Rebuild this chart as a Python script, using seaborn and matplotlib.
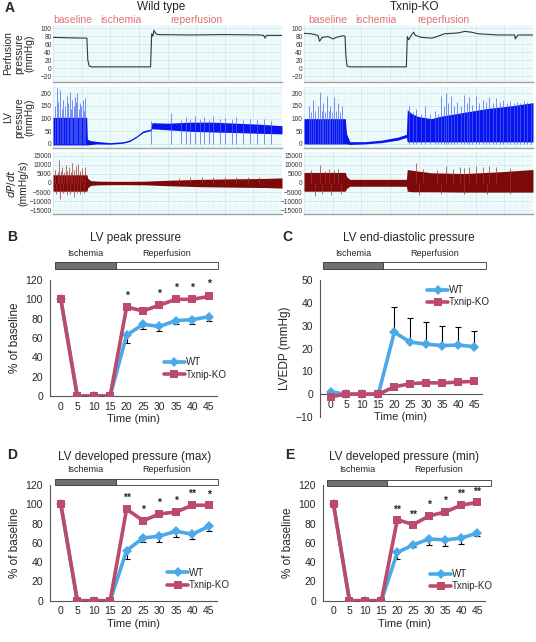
import numpy as np
import pandas as pd
import matplotlib
import matplotlib.pyplot as plt
import seaborn as sns
from matplotlib.patches import Rectangle
from matplotlib.lines import Line2D
from matplotlib.ticker import MultipleLocator

sns.set_theme(style='white')
plt.rcParams['font.family'] = ['Liberation Sans', 'DejaVu Sans']

# ---------------- panel A: traces (time as fraction of recording) ----------------
perf_wt_t = [0, 0.06, 0.148, 0.152, 0.158, 0.17, 0.426, 0.431, 0.436, 0.441, 0.447, 0.455,
             0.6, 0.75, 0.9, 0.92, 0.926, 0.932, 1.0]
perf_wt_v = [77, 76, 75, 20, 5, 3, 3, 86, 80, 95, 88, 84, 83, 84, 83, 82, 75, 82, 82]
perf_ko_t = [0, 0.032, 0.061, 0.068, 0.079, 0.105, 0.127, 0.141, 0.170, 0.179, 0.183, 0.188,
             0.2, 0.447, 0.451, 0.457, 0.469, 0.479, 0.486, 0.512, 0.556, 0.571, 0.614, 0.672,
             0.702, 0.731, 0.760, 0.847, 0.920, 0.923, 0.934, 1.0]
perf_ko_v = [87, 86, 82, 67, 77, 79, 73, 77, 81, 80, 30, 5, 3, 3, 79, 71, 83, 90, 82, 77,
             75, 77, 86, 88, 92, 90, 86, 83, 83, 73, 83, 83]

lv_wt_t = [0, 0.147, 0.150, 0.16, 0.19, 0.25, 0.307, 0.336, 0.365, 0.394, 0.424, 0.428, 0.432,
           0.5, 0.6, 0.7, 0.8, 0.9, 1.0]
lv_wt_hi = [105, 105, 20, 14, 10, 5, 9, 16, 32, 52, 58, 62, 84, 82, 86, 86, 82, 78, 72]
lv_wt_lo = [-4, -4, -4, -3, 0, -1, 3, 10, 26, 45, 52, 55, 60, 56, 50, 47, 45, 42, 40]
lv_wt_sp_t = [0.008, 0.016, 0.023, 0.03, 0.038, 0.045, 0.052, 0.06, 0.067, 0.074, 0.08,
              0.085, 0.09, 0.095, 0.1, 0.106, 0.112, 0.118, 0.124, 0.13, 0.135, 0.14,
              0.43, 0.514, 0.56, 0.58, 0.6, 0.62, 0.64, 0.66, 0.68, 0.7, 0.73, 0.75, 0.78,
              0.8, 0.83, 0.86, 0.89, 0.92, 0.95]
lv_wt_sp_h = [150, 220, 165, 213, 140, 174, 150, 190, 160, 207, 140,
              175, 150, 187, 165, 200, 140, 160, 150, 174, 130, 180,
              92, 121, 95, 105, 100, 112, 98, 108, 96, 110, 100, 104, 97,
              108, 96, 100, 95, 98, 90]

lv_ko_t = [0, 0.18, 0.186, 0.2, 0.265, 0.338, 0.41, 0.447, 0.451, 0.47, 0.5, 0.556, 0.6,
           0.7, 0.8, 0.9, 1.0]
lv_ko_hi = [100, 100, 40, 9, 9, 15, 27, 38, 135, 120, 108, 100, 110, 125, 140, 150, 163]
lv_ko_lo = [0, 0, 0, -2, 0, 5, 15, 26, 8, 8, 8, 8, 8, 8, 8, 8, 8]
lv_ko_sp_t = [0.02, 0.03, 0.04, 0.05, 0.06, 0.068, 0.077, 0.085, 0.093, 0.1, 0.108, 0.115,
              0.123, 0.13, 0.14, 0.15, 0.158, 0.165,
              0.46, 0.475, 0.49, 0.51, 0.53, 0.55, 0.57, 0.585, 0.6, 0.61, 0.62, 0.63, 0.64,
              0.655, 0.67, 0.685, 0.7, 0.71, 0.72, 0.735, 0.75, 0.765, 0.78, 0.795, 0.81,
              0.825, 0.84, 0.855, 0.87, 0.885, 0.9, 0.915, 0.93, 0.945, 0.96, 0.975, 0.99]
lv_ko_sp_h = [150, 125, 175, 130, 150, 205, 130, 160, 125, 190, 130, 150,
              125, 185, 130, 160, 125, 150,
              150, 125, 140, 120, 150, 118, 130, 120, 190, 150, 200, 160, 190,
              150, 165, 150, 195, 160, 185, 155, 190, 160, 175, 165, 185,
              160, 180, 165, 175, 160, 170, 160, 165, 160, 170, 165, 160]

dp_wt_t = [0, 0.148, 0.152, 0.165, 0.2, 0.3, 0.4, 0.5, 0.64, 0.8, 0.93, 1.0]
dp_wt_hi = [4500, 4500, 2500, 1300, 1000, 900, 1000, 1500, 2000, 2300, 2500, 2800]
dp_wt_lo = [-4500, -4500, -2500, -1300, -1000, -900, -1000, -1500, -2000, -2300, -2500, -2800]
dp_wt_sp_t = [0.01, 0.02, 0.028, 0.035, 0.04, 0.048, 0.055, 0.062, 0.07, 0.078, 0.085,
              0.092, 0.1, 0.11, 0.118, 0.125, 0.138,
              0.015, 0.03, 0.045, 0.06, 0.075, 0.09, 0.105, 0.12, 0.135,
              0.55, 0.6, 0.65, 0.7, 0.75, 0.8, 0.85, 0.9]
dp_wt_sp_h = [7000, 6000, 12600, 6500, 9000, 6000, 10000, 6500, 8500, 6000, 11000,
              7000, 9500, 10500, 6500, 8000, 9000,
              -6000, -8700, -5500, -6500, -5800, -7500, -5500, -6000, -5500,
              3000, 3200, 3400, 3500, 3300, 3300, 3400, 3300]

dp_ko_t = [0, 0.18, 0.186, 0.2, 0.447, 0.451, 0.47, 0.556, 0.7, 0.85, 1.0]
dp_ko_hi = [5800, 5800, 3500, 2000, 2000, 7400, 7000, 5600, 5200, 6100, 7400]
dp_ko_lo = [-4500, -4500, -3000, -1800, -1800, -4500, -4800, -4800, -5000, -5000, -5000]
dp_ko_sp_t = [0.03, 0.068, 0.09, 0.11, 0.13, 0.15, 0.05, 0.08, 0.12, 0.16,
              0.49, 0.52, 0.58, 0.62, 0.65, 0.68, 0.7, 0.72, 0.75, 0.78, 0.81, 0.84, 0.9,
              0.5, 0.6, 0.7, 0.8, 0.9]
dp_ko_sp_h = [7000, 9900, 6800, 7500, 7000, 7500, -7000, -6000, -6500, -6200,
              10800, 7500, 7200, 9500, 7800, 8500, 8200, 9000, 9500, 9000, 9200, 8500, 8000,
              -6500, -6000, -6000, -6200, -6000]

# ---------------- panels B-E ----------------
times = [0, 5, 10, 15, 20, 25, 30, 35, 40, 45]

b_wt = [100, 0, 0, 0, 63, 74, 72, 78, 79, 82]
b_wt_sem = [0, 0, 0, 0, 8, 5, 5, 4, 4, 4]
b_ko = [100, 0, 0, 0, 92, 88, 94, 100, 100, 103]
b_ko_sem = [0, 0, 0, 0, 2, 2, 3, 3, 3, 4]
b_stars = ['', '', '', '', '*', '', '*', '*', '*', '*']

c_wt = [1, 0, 0, 0, 27.1, 22.8, 21.9, 21.3, 21.5, 20.8]
c_wt_sem = [0, 0, 0, 0, 10.9, 10.4, 9.6, 8.4, 7.7, 7.0]
c_ko = [-1.1, 0, 0, 0, 3.2, 4.6, 5.0, 4.9, 5.3, 5.6]

d_wt = [100, 0, 0, 0, 52, 65, 67, 72, 69, 77]
d_wt_sem = [0, 0, 0, 0, 9, 4, 6, 6, 5, 5]
d_ko = [100, 0, 0, 0, 95, 83, 90, 92, 99, 99]
d_ko_sem = [0, 0, 0, 0, 2, 2, 2, 2, 3, 2]
d_stars = ['', '', '', '', '**', '*', '*', '*', '**', '*']

e_wt = [100, 0, 0, 0, 50, 58, 64, 63, 65, 70]
e_wt_sem = [0, 0, 0, 0, 7, 2, 6, 6, 6, 3]
e_ko = [100, 0, 0, 0, 84, 79, 88, 92, 99, 102]
e_ko_sem = [0, 0, 0, 0, 1, 1, 2, 2, 3, 2]
e_stars = ['', '', '', '', '**', '**', '*', '*', '**', '**']

WT_C = '#4ba9ea'
KO_C = '#bb4a6c'
LV_C = '#0a14ee'
DP_C = '#7c0a0a'
LBL_C = '#e07272'

W, H = 536, 642
fig = plt.figure(figsize=(W / 100, H / 100), dpi=100)


def fx(px):
    return px / W


def fy(py):
    return 1 - py / H


def px_axes(x0, y0, x1, y1):
    return fig.add_axes([fx(x0), fy(y1), (x1 - x0) / W, (y1 - y0) / H])


def trace_style(ax, ylim, yticks, yminor):
    ax.set_facecolor('#effbfb')
    ax.set_xlim(0, 1)
    ax.set_ylim(*ylim)
    ax.set_yticks(yticks)
    ax.yaxis.set_minor_locator(MultipleLocator(yminor))
    ax.xaxis.set_major_locator(MultipleLocator(0.125))
    ax.xaxis.set_minor_locator(MultipleLocator(0.025))
    ax.set_xticklabels([])
    ax.grid(which='major', color='#c3e6ec', lw=0.5)
    ax.grid(which='minor', color='#dcf1f4', lw=0.4, ls=(0, (2, 1)))
    ax.set_axisbelow(True)
    for s in ['top', 'left', 'right']:
        ax.spines[s].set_visible(False)
    ax.spines['bottom'].set_color('#9aa5a5')
    ax.spines['bottom'].set_linewidth(1.0)
    ax.tick_params(axis='both', which='both', length=0, labelsize=4.8,
                   colors='#333333', pad=1)
    ax.set_xlabel('')
    ax.set_ylabel('')


def trace_column(x0, x1, perf_t, perf_v, lv_t, lv_lo, lv_hi, sp_t, sp_h,
                 dp_t, dp_lo, dp_hi, dsp_t, dsp_h, lbl_x):
    ax1 = px_axes(x0, 25, x1, 82)
    sns.lineplot(x=perf_t, y=perf_v, ax=ax1, color='#2f3a3a', lw=0.8)
    trace_style(ax1, (-35, 108), [-20, 0, 20, 40, 60, 80, 100], 10)
    for txt, xx in zip(['baseline', 'ischemia', 'reperfusion'], lbl_x):
        ax1.text(xx, 1.09, txt, transform=ax1.transAxes, ha='center', va='center',
                 fontsize=7.5, color=LBL_C)

    ax2 = px_axes(x0, 87, x1, 148)
    ax2.fill_between(lv_t, lv_lo, lv_hi, color=LV_C, lw=0)
    ax2.vlines(sp_t, 0, sp_h, color='#4a62f6', lw=0.5)
    trace_style(ax2, (-16, 225), [0, 50, 100, 150, 200], 25)

    ax3 = px_axes(x0, 152, x1, 214)
    ax3.fill_between(dp_t, dp_lo, dp_hi, color=DP_C, lw=0)
    ax3.vlines(dsp_t, 0, dsp_h, color='#a83030', lw=0.5)
    trace_style(ax3, (-17000, 17000), [-15000, -10000, -5000, 0, 5000, 10000, 15000], 2500)
    return ax1, ax2, ax3


trace_column(53, 282, perf_wt_t, perf_wt_v, lv_wt_t, lv_wt_lo, lv_wt_hi, lv_wt_sp_t, lv_wt_sp_h,
             dp_wt_t, dp_wt_lo, dp_wt_hi, dp_wt_sp_t, dp_wt_sp_h, [0.087, 0.297, 0.624])
trace_column(304, 533, perf_ko_t, perf_ko_v, lv_ko_t, lv_ko_lo, lv_ko_hi, lv_ko_sp_t, lv_ko_sp_h,
             dp_ko_t, dp_ko_lo, dp_ko_hi, dp_ko_sp_t, dp_ko_sp_h, [0.105, 0.314, 0.607])

fig.text(fx(5), fy(8), 'A', fontsize=10, fontweight='bold', va='center')
fig.text(fx(161), fy(7), 'Wild type', fontsize=8.5, ha='center', va='center')
fig.text(fx(415), fy(7), 'Txnip-KO', fontsize=8.5, ha='center', va='center')
fig.text(fx(19), fy(53.5), 'Perfusion\npressure\n(mmHg)', rotation=90, ha='center',
         va='center', fontsize=7.5, linespacing=1.05, multialignment='center')
fig.text(fx(19), fy(117.5), 'LV\npressure\n(mmHg)', rotation=90, ha='center',
         va='center', fontsize=7.5, linespacing=1.05, multialignment='center')
fig.text(fx(17), fy(183), '$\\it{dP/dt}$\n(mmHg/s)', rotation=90, ha='center',
         va='center', fontsize=7.5, linespacing=1.05, multialignment='center')


def phase_bar(x0, xm, x1, y0, y1, ty):
    fig.patches.append(Rectangle((fx(x0), fy(y1)), (xm - x0) / W, (y1 - y0) / H,
                                 transform=fig.transFigure, facecolor='#707070',
                                 edgecolor='#333333', lw=0.6))
    fig.patches.append(Rectangle((fx(xm), fy(y1)), (x1 - xm) / W, (y1 - y0) / H,
                                 transform=fig.transFigure, facecolor='white',
                                 edgecolor='#333333', lw=0.6))
    fig.text(fx((x0 + xm) / 2), fy(ty), 'Ischemia', ha='center', va='center', fontsize=6.5)
    fig.text(fx((xm + x1) / 2), fy(ty), 'Reperfusion', ha='center', va='center', fontsize=6.5)


def time_panel(rect, wt, ko, wt_sem, ko_sem, ylim, yticks, ylabel, stars, leg_anchor,
               wt_up=False, zero_axis=False):
    ax = px_axes(*rect)
    df = pd.DataFrame({'Time': times * 2, 'value': wt + ko,
                       'group': ['WT'] * len(times) + ['Txnip-KO'] * len(times)})
    zeros = np.zeros(len(times))
    if wt_up:
        ax.errorbar(times, wt, yerr=[zeros, wt_sem], fmt='none',
                    ecolor='black', elinewidth=0.8, capsize=2.2, capthick=0.8, zorder=1)
    else:
        ax.errorbar(times, wt, yerr=[wt_sem, zeros], fmt='none',
                    ecolor='black', elinewidth=0.8, capsize=2.2, capthick=0.8, zorder=1)
    if ko_sem is not None:
        ax.errorbar(times, ko, yerr=[zeros, ko_sem], fmt='none',
                    ecolor='black', elinewidth=0.8, capsize=2.2, capthick=0.8, zorder=1)
    sns.lineplot(data=df, x='Time', y='value', hue='group', style='group',
                 hue_order=['WT', 'Txnip-KO'], style_order=['WT', 'Txnip-KO'],
                 palette={'WT': WT_C, 'Txnip-KO': KO_C},
                 markers={'WT': 'D', 'Txnip-KO': 's'}, dashes=False,
                 lw=2.6, markersize=5.5, markeredgewidth=0, legend=False, ax=ax, zorder=3)
    if stars is not None:
        for t, k, s, st in zip(times, ko, ko_sem, stars):
            if st:
                ax.text(t, k + s + 4, st, ha='center', va='bottom', fontsize=7.5,
                        fontweight='bold')
    ax.set_xlim(-3.3, 47.2)
    ax.set_ylim(*ylim)
    ax.set_yticks(yticks)
    ax.set_xticks(times)
    ax.set_xticks([t + 2.5 for t in times], minor=True)
    ax.set_xlabel('Time (min)', fontsize=8, labelpad=2)
    ax.set_ylabel(ylabel, fontsize=8.5, labelpad=3)
    for s in ['top', 'right']:
        ax.spines[s].set_visible(False)
    for s in ['left', 'bottom']:
        ax.spines[s].set_color('#555555')
        ax.spines[s].set_linewidth(0.8)
    if zero_axis:
        ax.spines['bottom'].set_position(('data', 0))
    ax.tick_params(axis='x', which='major', length=0, labelsize=7.5, pad=4)
    ax.tick_params(axis='x', which='minor', length=2.5, width=0.7, direction='inout',
                   color='#555555')
    ax.tick_params(axis='y', which='major', length=3, width=0.7, labelsize=7.5, pad=2,
                   color='#555555')
    handles = [Line2D([], [], color=WT_C, marker='D', lw=2.6, markersize=5.5,
                      markeredgewidth=0),
               Line2D([], [], color=KO_C, marker='s', lw=2.6, markersize=5.5,
                      markeredgewidth=0)]
    ax.legend(handles, ['WT', 'Txnip-KO'], loc='lower left', bbox_to_anchor=leg_anchor,
              frameon=False, fontsize=7, handlelength=2.2, handletextpad=0.1,
              labelspacing=0.25, borderaxespad=0, borderpad=0)
    return ax


# B
fig.text(fx(7), fy(237), 'B', fontsize=10, fontweight='bold', va='center')
fig.text(fx(135), fy(238), 'LV peak pressure', fontsize=8.5, ha='center', va='center')
phase_bar(55, 116, 218, 262, 269, 253)
time_panel((50, 280, 217, 396), b_wt, b_ko, b_wt_sem, b_ko_sem, (0, 120),
           [0, 20, 40, 60, 80, 100, 120], '% of baseline', b_stars, (0.68, 0.14))

# C
fig.text(fx(282), fy(237), 'C', fontsize=10, fontweight='bold', va='center')
fig.text(fx(409), fy(238), 'LV end-diastolic pressure', fontsize=8.5, ha='center',
         va='center')
phase_bar(323, 383, 486, 262, 269, 253)
time_panel((320, 280, 482, 417), c_wt, c_ko, c_wt_sem, None, (-10, 50),
           [-10, 0, 10, 20, 30, 40, 50], 'LVEDP (mmHg)', None, (0.66, 0.80),
           wt_up=True, zero_axis=True)

# D
fig.text(fx(7), fy(455), 'D', fontsize=10, fontweight='bold', va='center')
fig.text(fx(135), fy(457), 'LV developed pressure (max)', fontsize=8.5, ha='center',
         va='center')
phase_bar(55, 116, 218, 479, 485, 469)
time_panel((50, 485, 217, 600.7), d_wt, d_ko, d_wt_sem, d_ko_sem, (0, 120),
           [0, 20, 40, 60, 80, 100, 120], '% of baseline', d_stars, (0.70, 0.09))

# E
fig.text(fx(285), fy(455), 'E', fontsize=10, fontweight='bold', va='center')
fig.text(fx(404), fy(457), 'LV developed pressure (min)', fontsize=8.5, ha='center',
         va='center')
phase_bar(327, 387, 491, 480, 486, 469)
time_panel((323, 485, 485, 600.7), e_wt, e_ko, e_wt_sem, e_ko_sem, (0, 120),
           [0, 20, 40, 60, 80, 100, 120], '% of baseline', e_stars, (0.66, 0.08))

fig.savefig('out.png', dpi=100)
